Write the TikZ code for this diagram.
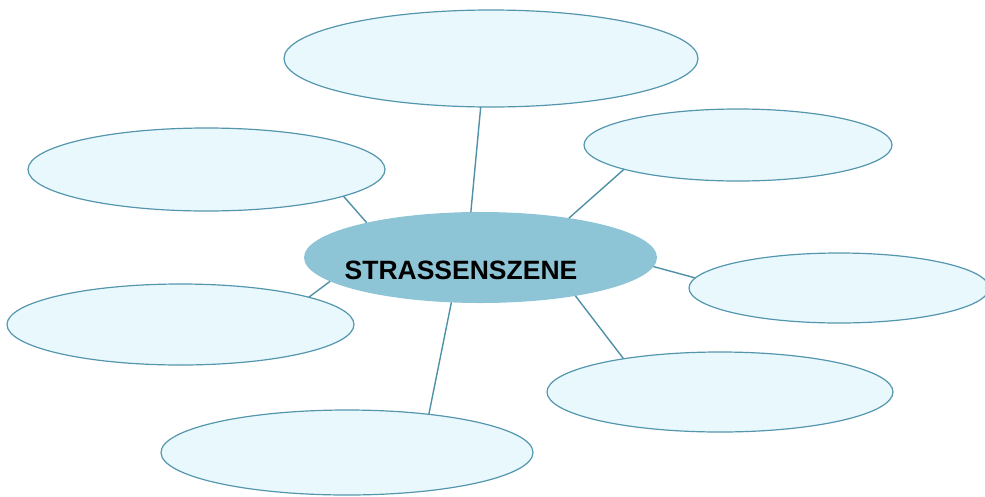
\documentclass[tikz,border=0pt]{standalone}
\usepackage{fontspec}
\setmainfont{Liberation Sans}
\usetikzlibrary{shapes.geometric}
\definecolor{lightfill}{HTML}{E9F8FD}
\definecolor{edgeblue}{HTML}{5496AD}
\definecolor{linkblue}{HTML}{4F90A6}
\definecolor{hubfill}{HTML}{8DC5D7}
\tikzset{
  bubble/.style={ellipse, draw=edgeblue, line width=1.2pt, fill=lightfill, inner sep=0pt, outer sep=0pt},
  hub/.style={ellipse, fill=hubfill, inner sep=0pt, outer sep=0pt},
  link/.style={draw=linkblue, line width=1.4pt},
  hubtext/.style={font=\bfseries\fontsize{26.5}{30}\selectfont, text=black, inner sep=0pt, anchor=base}
}
\begin{document}
\begin{tikzpicture}[x=1pt,y=-1pt]
\useasboundingbox (0,0) rectangle (985,496);
\node[hub, minimum width=353pt, minimum height=91pt] (c) at (480.5,257.5) {};
\node[bubble, minimum width=414pt, minimum height=97pt] (top) at (491,58.5) {};
\node[bubble, minimum width=357pt, minimum height=83pt] (ul) at (206.5,169.5) {};
\node[bubble, minimum width=347pt, minimum height=81pt] (l) at (180.5,324.5) {};
\node[bubble, minimum width=308pt, minimum height=72pt] (ur) at (738,145) {};
\node[bubble, minimum width=300pt, minimum height=70pt] (r) at (839,288) {};
\node[bubble, minimum width=346pt, minimum height=80pt] (lr) at (720,392) {};
\node[bubble, minimum width=372pt, minimum height=85pt] (b) at (347,452.5) {};
\draw[link] (c.102) -- (top.-102);
\draw[link] (c.163) -- (ul.-11.4);
\draw[link] (c.189.2) -- (l.12.2);
\draw[link] (c.24.1) -- (ur.192.3);
\draw[link] (c.-3.5) -- (r.176.9);
\draw[link] (c.-22.3) -- (lr.161.7);
\draw[link] (c.-123.9) -- (b.25.4);
\node[hubtext] (t) at (461,279) {STRASSENSZENE};
\end{tikzpicture}
\end{document}
